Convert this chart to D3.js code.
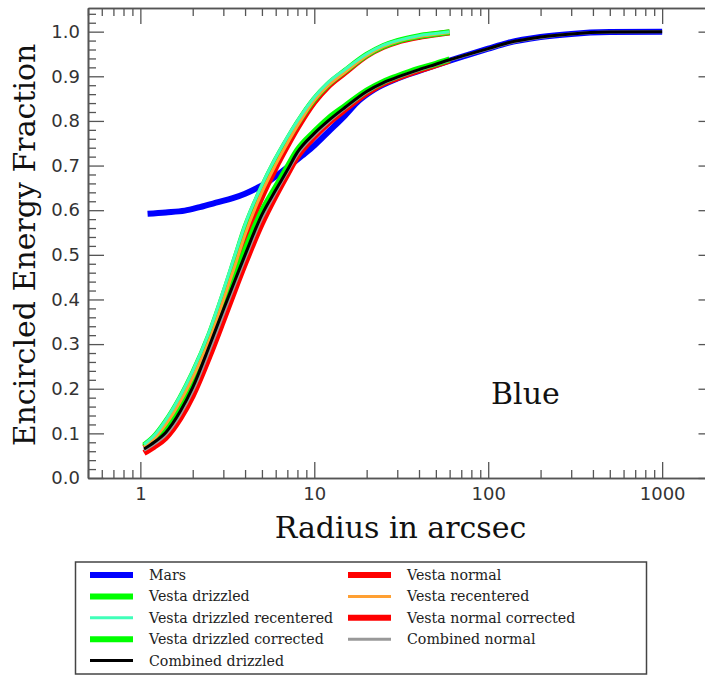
<!DOCTYPE html>
<html>
<head>
<meta charset="utf-8">
<script src="https://cdn.jsdelivr.net/npm/d3@7"></script>
<style>
  body { margin: 0; background: #fff; }
  svg { display: block; }
</style>
</head>
<body>
<div id="chart"></div>
<script>
// radii (arcsec) where the Vesta curves were sampled
const vestaR = [1.05, 1.2, 1.4, 1.7, 2, 2.5, 3, 3.5, 4, 5, 6, 7, 8, 10, 12, 15, 20, 25, 30, 40, 50, 60]
// combined curves continue out with the Mars profile
const combExtR = [75, 100, 130, 200, 300, 500, 1000]

const marsR = [1.1, 1.4, 1.8, 2.2, 2.8, 3.4, 4, 4.7, 5.5, 6.4, 7.4, 8.5, 10, 12, 15, 18, 22, 30, 40, 50, 75, 100, 130, 200, 300, 500, 1000]
const marsF = [0.592, 0.595, 0.599, 0.607, 0.618, 0.627, 0.637, 0.65, 0.665, 0.684, 0.703, 0.722, 0.745, 0.775, 0.812, 0.845, 0.87, 0.895, 0.912, 0.925, 0.947, 0.962, 0.975, 0.988, 0.995, 0.999, 1.0]

const vestaDrizzled = [0.073, 0.092, 0.126, 0.18, 0.234, 0.322, 0.41, 0.49, 0.56, 0.65, 0.712, 0.758, 0.795, 0.849, 0.882, 0.912, 0.948, 0.968, 0.979, 0.99, 0.995, 0.999]
const vestaDrizzledRecentered = [0.075, 0.095, 0.13, 0.185, 0.24, 0.33, 0.42, 0.5, 0.568, 0.657, 0.718, 0.764, 0.8, 0.853, 0.886, 0.915, 0.95, 0.97, 0.98, 0.991, 0.996, 1.0]
const vestaDrizzledCorrected = [0.07, 0.086, 0.11, 0.158, 0.211, 0.305, 0.385, 0.452, 0.51, 0.598, 0.652, 0.697, 0.735, 0.776, 0.805, 0.833, 0.868, 0.888, 0.9, 0.917, 0.928, 0.938]
const vestaNormal = [0.068, 0.085, 0.116, 0.166, 0.218, 0.302, 0.388, 0.466, 0.535, 0.63, 0.695, 0.744, 0.784, 0.842, 0.877, 0.908, 0.946, 0.966, 0.977, 0.988, 0.994, 0.998]
const vestaRecentered = [0.07, 0.088, 0.12, 0.172, 0.225, 0.31, 0.398, 0.476, 0.545, 0.64, 0.702, 0.75, 0.789, 0.846, 0.879, 0.909, 0.946, 0.967, 0.978, 0.989, 0.994, 0.998]
const vestaNormalCorrected = [0.056, 0.07, 0.09, 0.134, 0.184, 0.273, 0.353, 0.422, 0.48, 0.57, 0.632, 0.68, 0.72, 0.764, 0.794, 0.825, 0.862, 0.884, 0.896, 0.913, 0.925, 0.935]
const combinedNormal = [0.062, 0.076, 0.097, 0.143, 0.195, 0.287, 0.367, 0.435, 0.492, 0.582, 0.64, 0.686, 0.725, 0.768, 0.797, 0.828, 0.864, 0.885, 0.897, 0.914, 0.926, 0.936,
  0.947, 0.961, 0.974, 0.987, 0.995, 0.999, 1.0]
const combinedDrizzled = [0.065, 0.08, 0.102, 0.15, 0.203, 0.297, 0.377, 0.443, 0.5, 0.59, 0.645, 0.69, 0.73, 0.772, 0.8, 0.83, 0.866, 0.886, 0.898, 0.915, 0.927, 0.937,
  0.948, 0.962, 0.975, 0.988, 0.995, 0.999, 1.0]

const xMajorTicks = [1, 10, 100, 1000]
const yMajorTicks = [0, 0.1, 0.2, 0.3, 0.4, 0.5, 0.6, 0.7, 0.8, 0.9, 1.0]

const combR = vestaR.concat(combExtR)
const zip = (rs, fs) => rs.map((r, i) => [r, fs[i]])

// legend order, col = legend column
const series = [
  { name: "Mars", pts: zip(marsR, marsF), color: "#0000ff", width: 6, col: 0 },
  { name: "Vesta drizzled", pts: zip(vestaR, vestaDrizzled), color: "#00ff00", width: 6, col: 0 },
  { name: "Vesta drizzled recentered", pts: zip(vestaR, vestaDrizzledRecentered), color: "#40ffb8", width: 3, col: 0 },
  { name: "Vesta drizzled corrected", pts: zip(vestaR, vestaDrizzledCorrected), color: "#00ff00", width: 6, col: 0 },
  { name: "Combined drizzled", pts: zip(combR, combinedDrizzled), color: "#000000", width: 3, col: 0 },
  { name: "Vesta normal", pts: zip(vestaR, vestaNormal), color: "#ff0000", width: 6, col: 1 },
  { name: "Vesta recentered", pts: zip(vestaR, vestaRecentered), color: "#ffa033", width: 3, col: 1 },
  { name: "Vesta normal corrected", pts: zip(vestaR, vestaNormalCorrected), color: "#ff0000", width: 6, col: 1 },
  { name: "Combined normal", pts: zip(combR, combinedNormal), color: "#999999", width: 3, col: 1 },
]
// reds underneath, black on top
const drawOrder = [0, 5, 7, 1, 3, 6, 2, 8, 4]

const W = 705, H = 675
const axisColor = "#555"

const svg = d3.select("#chart").append("svg")
  .attr("width", W)
  .attr("height", H)

const x = d3.scaleLog().domain([0.5, 2000]).range([88, 714.5])
const y = d3.scaleLinear().domain([0, 1.053]).range([478, 8])

const xMinor = x.ticks().filter(d => !xMajorTicks.includes(d))
const yMinor = d3.range(0, 1.05, 0.02).filter(d => Math.abs(d * 10 - Math.round(d * 10)) > 1e-6)

const styleAxis = g => {
  g.select(".domain").attr("stroke", axisColor).attr("stroke-width", 1.6)
  g.selectAll(".tick line").attr("stroke", axisColor).attr("stroke-width", 1.3)
  g.selectAll(".tick text")
    .attr("fill", "#333")
    .style("font-family", "'DejaVu Sans', sans-serif")
    .style("font-size", "18px")
}

// bottom
svg.append("g")
  .attr("transform", `translate(0,${y(0)})`)
  .call(d3.axisBottom(x).tickValues(xMinor).tickSize(-8).tickSizeOuter(0).tickFormat(""))
  .call(styleAxis)
svg.append("g")
  .attr("transform", `translate(0,${y(0)})`)
  .call(d3.axisBottom(x).tickValues(xMajorTicks).tickSize(-16).tickSizeOuter(0).tickPadding(9).tickFormat(d3.format("d")))
  .call(styleAxis)
// top
svg.append("g")
  .attr("transform", `translate(0,${y.range()[1]})`)
  .call(d3.axisTop(x).tickValues(xMinor).tickSize(-8).tickSizeOuter(0).tickFormat(""))
  .call(styleAxis)
svg.append("g")
  .attr("transform", `translate(0,${y.range()[1]})`)
  .call(d3.axisTop(x).tickValues(xMajorTicks).tickSize(-16).tickSizeOuter(0).tickFormat(""))
  .call(styleAxis)
// left
svg.append("g")
  .attr("transform", `translate(${x.range()[0]},0)`)
  .call(d3.axisLeft(y).tickValues(yMinor).tickSize(-8).tickSizeOuter(0).tickFormat(""))
  .call(styleAxis)
svg.append("g")
  .attr("transform", `translate(${x.range()[0]},0)`)
  .call(d3.axisLeft(y).tickValues(yMajorTicks).tickSize(-16).tickSizeOuter(0).tickPadding(8).tickFormat(d3.format(".1f")))
  .call(styleAxis)
// right
svg.append("g")
  .attr("transform", `translate(${x.range()[1]},0)`)
  .call(d3.axisRight(y).tickValues(yMajorTicks).tickSize(-16).tickSizeOuter(0).tickFormat(""))
  .call(styleAxis)

const line = d3.line()
  .curve(d3.curveMonotoneX)
  .x(d => x(d[0]))
  .y(d => y(d[1]))

svg.append("g")
  .selectAll("path")
  .data(drawOrder.map(i => series[i]))
  .enter()
  .append("path")
  .attr("d", d => line(d.pts))
  .attr("fill", "none")
  .attr("stroke", d => d.color)
  .attr("stroke-width", d => d.width)
  .attr("stroke-linejoin", "round")

// titles
svg.append("text")
  .attr("x", (x.range()[0] + 705) / 2 + 4)
  .attr("y", 538)
  .attr("text-anchor", "middle")
  .style("font-family", "'DejaVu Serif', serif")
  .style("font-size", "30px")
  .attr("fill", "#111")
  .text("Radius in arcsec")

svg.append("text")
  .attr("transform", `translate(35,245) rotate(-90)`)
  .attr("text-anchor", "middle")
  .style("font-family", "'DejaVu Serif', serif")
  .style("font-size", "30px")
  .attr("fill", "#111")
  .text("Encircled Energy Fraction")

svg.append("text")
  .attr("x", 491)
  .attr("y", 404)
  .style("font-family", "'DejaVu Serif', serif")
  .style("font-size", "30px")
  .attr("fill", "#111")
  .text("Blue")

// legend
const legend = svg.append("g")
legend.append("rect")
  .attr("x", 75.5)
  .attr("y", 562)
  .attr("width", 571)
  .attr("height", 112)
  .attr("fill", "#fff")
  .attr("stroke", "#444")
  .attr("stroke-width", 1.5)

const colX = [{ line: 90, text: 149 }, { line: 348, text: 407 }]
const rowY = i => 575 + i * 21.4

const items = legend.selectAll("g.item")
  .data(series.map((s, i) => ({ ...s, row: s.col === 0 ? i : i - 5 })))
  .enter()
  .append("g")
  .attr("class", "item")
  .attr("transform", d => `translate(0,${rowY(d.row)})`)

items.append("line")
  .attr("x1", d => colX[d.col].line)
  .attr("x2", d => colX[d.col].line + 43)
  .attr("stroke", d => d.color)
  .attr("stroke-width", d => d.width)

items.append("text")
  .attr("x", d => colX[d.col].text)
  .attr("dy", "0.35em")
  .style("font-family", "'DejaVu Serif', serif")
  .style("font-size", "14.2px")
  .attr("fill", "#222")
  .text(d => d.name)
</script>
</body>
</html>
